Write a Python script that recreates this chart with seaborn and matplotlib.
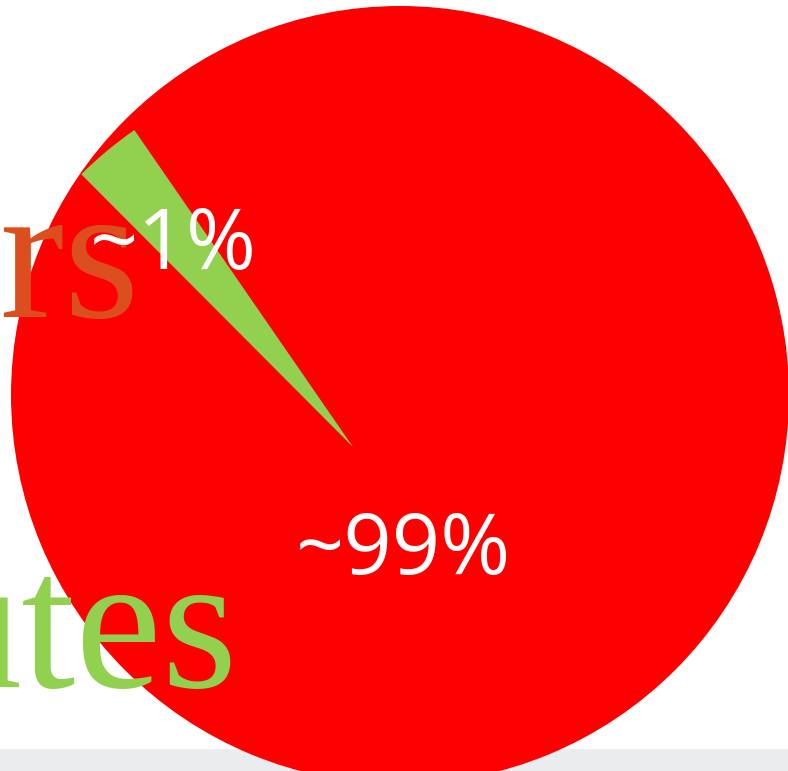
import matplotlib
matplotlib.use("Agg")
import matplotlib.pyplot as plt
import seaborn as sns
from matplotlib.patches import Rectangle

# ---- data ----
categories = ["small", "large"]
shares = [2.86, 97.14]
share_labels = ["~1%", "~99%"]
words = ["rs", "utes"]

# ---- style ----
sns.set_theme(style="white")
plt.rcParams["font.family"] = ["Open Sans", "DejaVu Sans"]
RED = "#ff0000"
GREEN = "#92d050"
ORANGE = "#dc4e1e"
W, H = 788, 771

fig = plt.figure(figsize=(W / 100, H / 100), dpi=100)
fig.patch.set_facecolor("white")
fig.add_artist(Rectangle((0, 0), 1, 22 / H, transform=fig.transFigure,
                         facecolor="#ebecee", edgecolor="none", zorder=0))
ax = fig.add_axes([0, 0, 1, 1])
ax.set_facecolor("none")
ax.set_xlim(0, W)
ax.set_ylim(0, H)
ax.set_aspect("equal")
ax.axis("off")

# full red disc (the ~99% part) underneath
ax.pie([sum(shares)], colors=[RED], center=(400, H - 395), radius=389,
       wedgeprops=dict(linewidth=0), frame=True)
# green slice on top
wedges, _ = ax.pie(shares, colors=[GREEN, "none"], center=(353, H - 447),
                   radius=385, startangle=124.6, counterclock=True,
                   wedgeprops=dict(linewidth=0), frame=True)
ax.set_xlim(0, W)
ax.set_ylim(0, H)
ax.axis("off")

# big words (clipped at the left edge)
ax.text(140, H - 317, words[0], color=ORANGE, fontsize=140,
        family="Liberation Serif", ha="right", va="baseline", zorder=5)
ax.text(238, H - 687, words[1], color=GREEN, fontsize=140,
        family="Liberation Serif", ha="right", va="baseline", zorder=5)

# share labels
label_pos = [(173, H - 269), (403, H - 574)]
for (x, y), lab in zip(label_pos, share_labels):
    ax.text(x, y, lab, color="white", fontsize=61, ha="center",
            va="baseline", zorder=6)

fig.savefig("out.png", dpi=100)
